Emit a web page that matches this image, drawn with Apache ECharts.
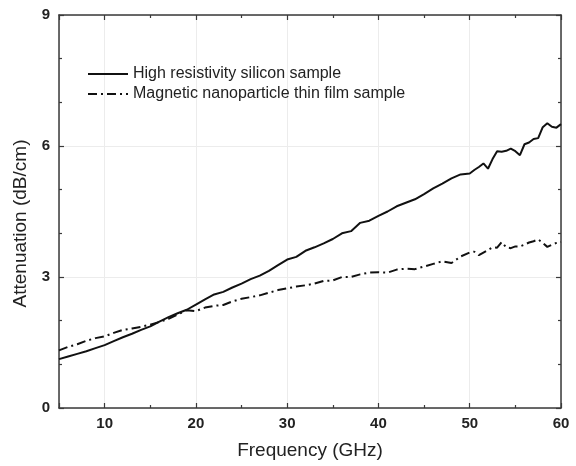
<!DOCTYPE html>
<html>
<head>
<meta charset="utf-8">
<script src="https://cdn.jsdelivr.net/npm/echarts@6/dist/echarts.min.js"></script>
<style>
  html, body { margin: 0; padding: 0; background: #fff; }
  #chart { width: 576px; height: 466px; }
</style>
</head>
<body>
<div id="chart"></div>
<script>
// frequency points (GHz)
const freq = [
  5, 6, 7, 8, 9, 10, 11, 12, 13, 14, 15, 16, 17, 18, 19, 20,
  21, 22, 23, 24, 25, 26, 27, 28, 29, 30, 31, 32, 33, 34, 35,
  36, 37, 38, 39, 40, 41, 42, 43, 44, 45, 46, 47, 48, 49, 50,
  50.5, 51, 51.5, 52, 52.5, 53, 53.5, 54, 54.5, 55, 55.5, 56,
  56.5, 57, 57.5, 58, 58.5, 59, 59.5, 60
];
// attenuation, high resistivity silicon (dB/cm)
const silicon = [
  1.12, 1.18, 1.24, 1.30, 1.37, 1.44, 1.53, 1.62, 1.70, 1.79, 1.87, 1.98, 2.08, 2.17, 2.25, 2.37,
  2.49, 2.60, 2.66, 2.76, 2.85, 2.95, 3.03, 3.14, 3.27, 3.40, 3.46, 3.60, 3.68, 3.77, 3.87,
  4.00, 4.05, 4.24, 4.29, 4.40, 4.50, 4.62, 4.70, 4.78, 4.90, 5.03, 5.14, 5.26, 5.35, 5.37,
  5.45, 5.52, 5.60, 5.48, 5.70, 5.88, 5.87, 5.89, 5.94, 5.88, 5.79, 6.04,
  6.08, 6.16, 6.18, 6.43, 6.52, 6.44, 6.42, 6.50
];
// attenuation, magnetic nanoparticle thin film (dB/cm)
const film = [
  1.32, 1.40, 1.46, 1.54, 1.60, 1.64, 1.72, 1.79, 1.82, 1.86, 1.91, 1.97, 2.04, 2.14, 2.24, 2.22,
  2.30, 2.34, 2.36, 2.44, 2.50, 2.54, 2.58, 2.64, 2.70, 2.74, 2.78, 2.81, 2.85, 2.91, 2.92,
  3.00, 3.00, 3.06, 3.10, 3.11, 3.10, 3.17, 3.19, 3.18, 3.24, 3.30, 3.36, 3.32, 3.47, 3.56,
  3.58, 3.50, 3.56, 3.62, 3.68, 3.67, 3.80, 3.68, 3.66, 3.70, 3.70, 3.74,
  3.79, 3.82, 3.86, 3.78, 3.69, 3.74, 3.78, 3.80
];
const seriesNames = ["High resistivity silicon sample", "Magnetic nanoparticle thin film sample"];

const font = "'Liberation Sans', Arial, sans-serif";
const axisColor = "#3a3a3a";
const textColor = "#222";
const lineColor = "#111";

// legend 圖示：實線 / 點劃線
const solidIcon = "path://M0,0H40V2H0Z";
const dashDotIcon = "path://M0,0H9V2H0Z M13,0H15V2H13Z M19,0H28V2H19Z M32,0H34V2H32Z M38,0H40V2H38Z";

const chart = echarts.init(document.getElementById("chart"), null, { renderer: "canvas" });

// 框線四邊的共同設定
const frameAxis = {
  axisLine: { show: true, onZero: false, lineStyle: { color: axisColor, width: 1.5 } },
  axisTick: { show: true, inside: true, length: 5, lineStyle: { color: axisColor, width: 1.2 } },
  minorTick: { show: true, length: 3, lineStyle: { color: axisColor, width: 1.2 } },
};

const option = {
  animation: false,
  backgroundColor: "#fff",
  grid: { left: 59, right: 15, top: 15, bottom: 58 },
  legend: {
    show: true,
    orient: "vertical",
    left: 83,
    top: 61,
    itemWidth: 40,
    itemHeight: 10,
    itemGap: 4,
    symbolKeepAspect: true,
    data: [
      { name: seriesNames[0], icon: solidIcon },
      { name: seriesNames[1], icon: dashDotIcon },
    ],
    textStyle: { fontFamily: font, fontSize: 16, color: textColor },
  },
  xAxis: [
    {
      type: "value",
      min: 5,
      max: 60,
      ...frameAxis,
      minorTick: { ...frameAxis.minorTick, splitNumber: 2 },
      axisLabel: {
        showMinLabel: false,
        margin: 8,
        fontFamily: font,
        fontSize: 15,
        fontWeight: "bold",
        color: textColor,
      },
      splitLine: { show: true, lineStyle: { color: "#ececec", width: 1 } },
      name: "Frequency (GHz)",
      nameLocation: "middle",
      nameGap: 33,
      nameTextStyle: { fontFamily: font, fontSize: 19, color: textColor },
    },
    {
      type: "value",
      position: "top",
      min: 5,
      max: 60,
      ...frameAxis,
      minorTick: { ...frameAxis.minorTick, splitNumber: 2 },
      axisLabel: { show: false },
      splitLine: { show: false },
    },
  ],
  yAxis: [
    {
      type: "value",
      min: 0,
      max: 9,
      interval: 3,
      ...frameAxis,
      minorTick: { ...frameAxis.minorTick, splitNumber: 3 },
      axisLabel: {
        margin: 9,
        fontFamily: font,
        fontSize: 15,
        fontWeight: "bold",
        color: textColor,
      },
      splitLine: { show: true, lineStyle: { color: "#ececec", width: 1 } },
      name: "Attenuation (dB/cm)",
      nameLocation: "middle",
      nameGap: 26,
      nameTextStyle: { fontFamily: font, fontSize: 19, color: textColor, padding: [0, 24, 0, 0] },
    },
    {
      type: "value",
      position: "right",
      min: 0,
      max: 9,
      interval: 3,
      ...frameAxis,
      minorTick: { ...frameAxis.minorTick, splitNumber: 3 },
      axisLabel: { show: false },
      splitLine: { show: false },
    },
  ],
  series: [
    {
      name: seriesNames[0],
      type: "line",
      xAxisIndex: 0,
      yAxisIndex: 0,
      data: freq.map((f, i) => [f, silicon[i]]),
      showSymbol: false,
      symbol: "none",
      lineStyle: { color: lineColor, width: 2 },
      itemStyle: { color: lineColor },
    },
    {
      name: seriesNames[1],
      type: "line",
      xAxisIndex: 0,
      yAxisIndex: 0,
      data: freq.map((f, i) => [f, film[i]]),
      showSymbol: false,
      symbol: "none",
      lineStyle: { color: lineColor, width: 2, type: [9, 4, 2, 4] },
      itemStyle: { color: lineColor },
    },
  ],
};

chart.setOption(option);
</script>
</body>
</html>
